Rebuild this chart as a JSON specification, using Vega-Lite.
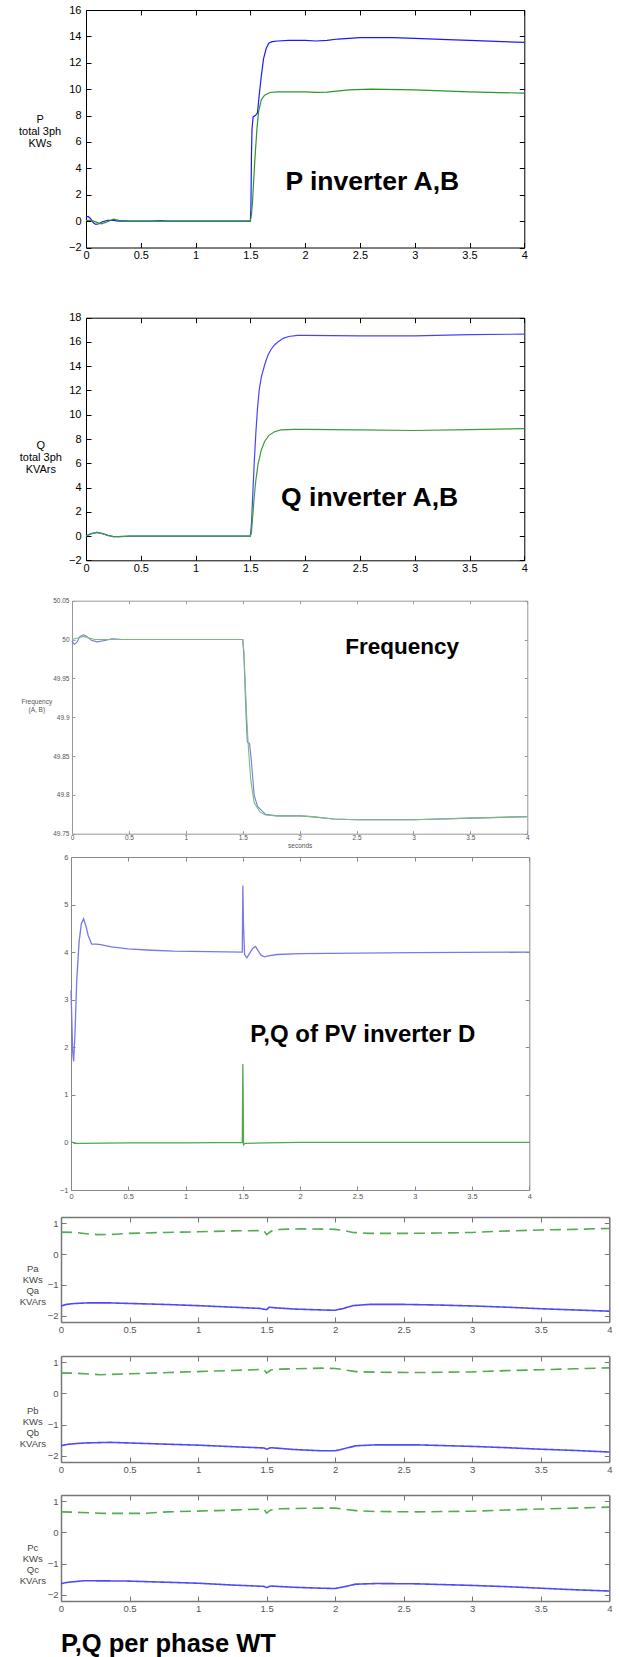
{
"$schema": "https://vega.github.io/schema/vega-lite/v6.json",
"autosize": {"type": "pad"},
"padding": {"left": 18, "top": 4, "right": 5, "bottom": 5},
"background": "white",
"spacing": 0,
"bounds": "flush",
"resolve": {"scale": {"color": "independent", "strokeDash": "independent"}},
"config": {
  "view": {"stroke": null},
  "font": "Liberation Sans",
  "axis": {"grid": false, "tickSize": -5, "labelFont": "Liberation Sans", "titleFont": "Liberation Sans", "labelFontSize": 11, "labelColor": "#000", "domainColor": "#000", "tickColor": "#000", "titleColor": "#000", "titleFontWeight": "normal", "labelFlush": false, "labelOverlap": false, "format": "~g"}
},
"datasets": {
  "p1": [
    {"t":0,"v":0.3,"s":"A"},{"t":0.02,"v":0.35,"s":"A"},{"t":0.04,"v":0.2,"s":"A"},{"t":0.07,"v":-0.15,"s":"A"},{"t":0.09,"v":-0.25,"s":"A"},{"t":0.12,"v":-0.2,"s":"A"},{"t":0.15,"v":-0.05,"s":"A"},{"t":0.2,"v":0.05,"s":"A"},{"t":0.25,"v":0.05,"s":"A"},{"t":0.3,"v":0,"s":"A"},{"t":0.6,"v":0,"s":"A"},{"t":0.68,"v":0.03,"s":"A"},{"t":0.75,"v":0,"s":"A"},{"t":1.2,"v":0,"s":"A"},{"t":1.5,"v":0,"s":"A"},{"t":1.505,"v":1,"s":"A"},{"t":1.51,"v":5,"s":"A"},{"t":1.515,"v":7,"s":"A"},{"t":1.525,"v":7.9,"s":"A"},{"t":1.545,"v":8,"s":"A"},{"t":1.565,"v":8.2,"s":"A"},{"t":1.58,"v":9.5,"s":"A"},{"t":1.6,"v":11,"s":"A"},{"t":1.62,"v":12.3,"s":"A"},{"t":1.645,"v":13.1,"s":"A"},{"t":1.67,"v":13.5,"s":"A"},{"t":1.7,"v":13.6,"s":"A"},{"t":1.75,"v":13.65,"s":"A"},{"t":1.85,"v":13.7,"s":"A"},{"t":2.0,"v":13.7,"s":"A"},{"t":2.1,"v":13.65,"s":"A"},{"t":2.2,"v":13.7,"s":"A"},{"t":2.3,"v":13.8,"s":"A"},{"t":2.5,"v":13.9,"s":"A"},{"t":2.8,"v":13.9,"s":"A"},{"t":3.0,"v":13.85,"s":"A"},{"t":3.3,"v":13.75,"s":"A"},{"t":3.5,"v":13.7,"s":"A"},{"t":3.8,"v":13.6,"s":"A"},{"t":4.0,"v":13.55,"s":"A"},
    {"t":0,"v":0.05,"s":"B"},{"t":0.05,"v":0.05,"s":"B"},{"t":0.1,"v":-0.1,"s":"B"},{"t":0.14,"v":-0.2,"s":"B"},{"t":0.18,"v":-0.1,"s":"B"},{"t":0.25,"v":0.15,"s":"B"},{"t":0.3,"v":0.05,"s":"B"},{"t":0.4,"v":0,"s":"B"},{"t":1.5,"v":0,"s":"B"},{"t":1.51,"v":0.5,"s":"B"},{"t":1.52,"v":1.5,"s":"B"},{"t":1.54,"v":4.5,"s":"B"},{"t":1.56,"v":7,"s":"B"},{"t":1.575,"v":8.3,"s":"B"},{"t":1.6,"v":9.2,"s":"B"},{"t":1.63,"v":9.55,"s":"B"},{"t":1.68,"v":9.75,"s":"B"},{"t":1.75,"v":9.8,"s":"B"},{"t":2.0,"v":9.8,"s":"B"},{"t":2.1,"v":9.75,"s":"B"},{"t":2.2,"v":9.78,"s":"B"},{"t":2.4,"v":9.95,"s":"B"},{"t":2.6,"v":10,"s":"B"},{"t":3.0,"v":9.95,"s":"B"},{"t":3.5,"v":9.8,"s":"B"},{"t":4.0,"v":9.7,"s":"B"}
  ],
  "p2": [
    {"t":0,"v":0,"s":"A"},{"t":0.05,"v":0.2,"s":"A"},{"t":0.1,"v":0.3,"s":"A"},{"t":0.15,"v":0.2,"s":"A"},{"t":0.2,"v":0.05,"s":"A"},{"t":0.25,"v":-0.05,"s":"A"},{"t":0.3,"v":-0.05,"s":"A"},{"t":0.4,"v":0,"s":"A"},{"t":1.5,"v":0,"s":"A"},{"t":1.51,"v":1,"s":"A"},{"t":1.52,"v":3,"s":"A"},{"t":1.535,"v":6,"s":"A"},{"t":1.55,"v":8.5,"s":"A"},{"t":1.565,"v":10.5,"s":"A"},{"t":1.58,"v":12,"s":"A"},{"t":1.6,"v":13.1,"s":"A"},{"t":1.63,"v":14.1,"s":"A"},{"t":1.66,"v":14.9,"s":"A"},{"t":1.69,"v":15.4,"s":"A"},{"t":1.72,"v":15.75,"s":"A"},{"t":1.75,"v":16,"s":"A"},{"t":1.8,"v":16.3,"s":"A"},{"t":1.85,"v":16.45,"s":"A"},{"t":1.93,"v":16.55,"s":"A"},{"t":2.0,"v":16.55,"s":"A"},{"t":2.5,"v":16.5,"s":"A"},{"t":3.0,"v":16.5,"s":"A"},{"t":3.5,"v":16.6,"s":"A"},{"t":4.0,"v":16.65,"s":"A"},
    {"t":0,"v":0,"s":"B"},{"t":0.05,"v":0.2,"s":"B"},{"t":0.1,"v":0.3,"s":"B"},{"t":0.15,"v":0.2,"s":"B"},{"t":0.2,"v":0.05,"s":"B"},{"t":0.25,"v":-0.05,"s":"B"},{"t":0.3,"v":-0.05,"s":"B"},{"t":0.4,"v":0,"s":"B"},{"t":1.5,"v":0,"s":"B"},{"t":1.51,"v":0.3,"s":"B"},{"t":1.52,"v":1.5,"s":"B"},{"t":1.535,"v":3.2,"s":"B"},{"t":1.55,"v":4.6,"s":"B"},{"t":1.57,"v":5.9,"s":"B"},{"t":1.6,"v":7.1,"s":"B"},{"t":1.63,"v":7.8,"s":"B"},{"t":1.67,"v":8.3,"s":"B"},{"t":1.72,"v":8.6,"s":"B"},{"t":1.78,"v":8.75,"s":"B"},{"t":1.9,"v":8.8,"s":"B"},{"t":2.0,"v":8.8,"s":"B"},{"t":2.5,"v":8.75,"s":"B"},{"t":3.0,"v":8.7,"s":"B"},{"t":3.5,"v":8.78,"s":"B"},{"t":4.0,"v":8.85,"s":"B"}
  ],
  "p3": [
    {"t":0,"v":49.998,"s":"A"},{"t":0.02,"v":49.994,"s":"A"},{"t":0.04,"v":49.996,"s":"A"},{"t":0.07,"v":50.004,"s":"A"},{"t":0.1,"v":50.006,"s":"A"},{"t":0.13,"v":50.004,"s":"A"},{"t":0.17,"v":49.999,"s":"A"},{"t":0.22,"v":49.997,"s":"A"},{"t":0.3,"v":49.999,"s":"A"},{"t":0.35,"v":50.001,"s":"A"},{"t":0.45,"v":50,"s":"A"},{"t":1.5,"v":50,"s":"A"},{"t":1.51,"v":49.98,"s":"A"},{"t":1.53,"v":49.9,"s":"A"},{"t":1.54,"v":49.868,"s":"A"},{"t":1.56,"v":49.866,"s":"A"},{"t":1.575,"v":49.845,"s":"A"},{"t":1.6,"v":49.8,"s":"A"},{"t":1.63,"v":49.785,"s":"A"},{"t":1.7,"v":49.775,"s":"A"},{"t":1.8,"v":49.773,"s":"A"},{"t":2.0,"v":49.773,"s":"A"},{"t":2.1,"v":49.772,"s":"A"},{"t":2.3,"v":49.769,"s":"A"},{"t":2.5,"v":49.768,"s":"A"},{"t":3.0,"v":49.768,"s":"A"},{"t":3.5,"v":49.77,"s":"A"},{"t":4.0,"v":49.772,"s":"A"},
    {"t":0,"v":50,"s":"B"},{"t":0.05,"v":50.002,"s":"B"},{"t":0.1,"v":50.004,"s":"B"},{"t":0.2,"v":50,"s":"B"},{"t":1.5,"v":50,"s":"B"},{"t":1.51,"v":49.985,"s":"B"},{"t":1.52,"v":49.95,"s":"B"},{"t":1.535,"v":49.9,"s":"B"},{"t":1.55,"v":49.86,"s":"B"},{"t":1.57,"v":49.82,"s":"B"},{"t":1.6,"v":49.79,"s":"B"},{"t":1.65,"v":49.778,"s":"B"},{"t":1.7,"v":49.774,"s":"B"},{"t":1.8,"v":49.773,"s":"B"},{"t":2.0,"v":49.773,"s":"B"},{"t":2.1,"v":49.772,"s":"B"},{"t":2.3,"v":49.769,"s":"B"},{"t":2.5,"v":49.768,"s":"B"},{"t":3.0,"v":49.768,"s":"B"},{"t":3.5,"v":49.77,"s":"B"},{"t":4.0,"v":49.772,"s":"B"}
  ],
  "p4": [
    {"t":0,"v":3.2,"s":"A"},{"t":0.008,"v":2.5,"s":"A"},{"t":0.015,"v":1.9,"s":"A"},{"t":0.023,"v":1.7,"s":"A"},{"t":0.035,"v":2.3,"s":"A"},{"t":0.05,"v":3.4,"s":"A"},{"t":0.07,"v":4.2,"s":"A"},{"t":0.09,"v":4.6,"s":"A"},{"t":0.11,"v":4.7,"s":"A"},{"t":0.13,"v":4.55,"s":"A"},{"t":0.15,"v":4.35,"s":"A"},{"t":0.18,"v":4.17,"s":"A"},{"t":0.22,"v":4.17,"s":"A"},{"t":0.26,"v":4.16,"s":"A"},{"t":0.35,"v":4.11,"s":"A"},{"t":0.5,"v":4.07,"s":"A"},{"t":0.7,"v":4.04,"s":"A"},{"t":0.9,"v":4.02,"s":"A"},{"t":1.2,"v":4.01,"s":"A"},{"t":1.495,"v":4,"s":"A"},{"t":1.5,"v":5.4,"s":"A"},{"t":1.505,"v":4.6,"s":"A"},{"t":1.515,"v":3.95,"s":"A"},{"t":1.535,"v":3.88,"s":"A"},{"t":1.56,"v":3.98,"s":"A"},{"t":1.585,"v":4.08,"s":"A"},{"t":1.61,"v":4.12,"s":"A"},{"t":1.635,"v":4.02,"s":"A"},{"t":1.66,"v":3.93,"s":"A"},{"t":1.69,"v":3.9,"s":"A"},{"t":1.72,"v":3.92,"s":"A"},{"t":1.8,"v":3.95,"s":"A"},{"t":2.0,"v":3.97,"s":"A"},{"t":2.5,"v":3.98,"s":"A"},{"t":3.0,"v":3.99,"s":"A"},{"t":4.0,"v":4.0,"s":"A"},
    {"t":0,"v":0.02,"s":"B"},{"t":0.03,"v":-0.02,"s":"B"},{"t":0.1,"v":-0.02,"s":"B"},{"t":0.5,"v":-0.01,"s":"B"},{"t":1.0,"v":-0.01,"s":"B"},{"t":1.495,"v":0,"s":"B"},{"t":1.5,"v":1.65,"s":"B"},{"t":1.503,"v":0.8,"s":"B"},{"t":1.506,"v":-0.05,"s":"B"},{"t":1.52,"v":-0.02,"s":"B"},{"t":1.7,"v":-0.01,"s":"B"},{"t":2.0,"v":0,"s":"B"},{"t":4.0,"v":0,"s":"B"}
  ],
  "p5": [
    {"t":0,"v":-1.68,"s":"P"},{"t":0.04,"v":-1.63,"s":"P"},{"t":0.1,"v":-1.6,"s":"P"},{"t":0.2,"v":-1.58,"s":"P"},{"t":0.35,"v":-1.58,"s":"P"},{"t":0.5,"v":-1.6,"s":"P"},{"t":0.75,"v":-1.63,"s":"P"},{"t":1.0,"v":-1.67,"s":"P"},{"t":1.25,"v":-1.72,"s":"P"},{"t":1.45,"v":-1.76,"s":"P"},{"t":1.5,"v":-1.8,"s":"P"},{"t":1.52,"v":-1.72,"s":"P"},{"t":1.56,"v":-1.74,"s":"P"},{"t":1.7,"v":-1.78,"s":"P"},{"t":1.9,"v":-1.81,"s":"P"},{"t":2.0,"v":-1.82,"s":"P"},{"t":2.06,"v":-1.76,"s":"P"},{"t":2.13,"v":-1.67,"s":"P"},{"t":2.25,"v":-1.63,"s":"P"},{"t":2.5,"v":-1.63,"s":"P"},{"t":2.75,"v":-1.65,"s":"P"},{"t":3.0,"v":-1.68,"s":"P"},{"t":3.25,"v":-1.72,"s":"P"},{"t":3.5,"v":-1.77,"s":"P"},{"t":3.75,"v":-1.81,"s":"P"},{"t":4.0,"v":-1.85,"s":"P"},
    {"t":0,"v":0.71,"s":"Q"},{"t":0.1,"v":0.7,"s":"Q"},{"t":0.2,"v":0.65,"s":"Q"},{"t":0.27,"v":0.63,"s":"Q"},{"t":0.4,"v":0.64,"s":"Q"},{"t":0.5,"v":0.67,"s":"Q"},{"t":0.75,"v":0.7,"s":"Q"},{"t":1.0,"v":0.72,"s":"Q"},{"t":1.25,"v":0.75,"s":"Q"},{"t":1.48,"v":0.76,"s":"Q"},{"t":1.5,"v":0.63,"s":"Q"},{"t":1.53,"v":0.73,"s":"Q"},{"t":1.56,"v":0.79,"s":"Q"},{"t":1.75,"v":0.82,"s":"Q"},{"t":2.0,"v":0.8,"s":"Q"},{"t":2.05,"v":0.77,"s":"Q"},{"t":2.13,"v":0.7,"s":"Q"},{"t":2.25,"v":0.67,"s":"Q"},{"t":2.5,"v":0.67,"s":"Q"},{"t":2.75,"v":0.68,"s":"Q"},{"t":3.0,"v":0.7,"s":"Q"},{"t":3.2,"v":0.74,"s":"Q"},{"t":3.5,"v":0.78,"s":"Q"},{"t":3.75,"v":0.8,"s":"Q"},{"t":4.0,"v":0.83,"s":"Q"}
  ],
  "p6": [
    {"t":0,"v":-1.68,"s":"P"},{"t":0.05,"v":-1.63,"s":"P"},{"t":0.17,"v":-1.59,"s":"P"},{"t":0.36,"v":-1.57,"s":"P"},{"t":0.5,"v":-1.59,"s":"P"},{"t":0.78,"v":-1.63,"s":"P"},{"t":1.0,"v":-1.66,"s":"P"},{"t":1.26,"v":-1.71,"s":"P"},{"t":1.48,"v":-1.75,"s":"P"},{"t":1.5,"v":-1.79,"s":"P"},{"t":1.53,"v":-1.74,"s":"P"},{"t":1.7,"v":-1.8,"s":"P"},{"t":1.9,"v":-1.84,"s":"P"},{"t":2.0,"v":-1.84,"s":"P"},{"t":2.07,"v":-1.77,"s":"P"},{"t":2.15,"v":-1.68,"s":"P"},{"t":2.3,"v":-1.65,"s":"P"},{"t":2.6,"v":-1.65,"s":"P"},{"t":3.0,"v":-1.7,"s":"P"},{"t":3.25,"v":-1.74,"s":"P"},{"t":3.5,"v":-1.79,"s":"P"},{"t":3.75,"v":-1.83,"s":"P"},{"t":4.0,"v":-1.88,"s":"P"},
    {"t":0,"v":0.66,"s":"Q"},{"t":0.1,"v":0.65,"s":"Q"},{"t":0.29,"v":0.6,"s":"Q"},{"t":0.5,"v":0.63,"s":"Q"},{"t":0.78,"v":0.67,"s":"Q"},{"t":1.14,"v":0.72,"s":"Q"},{"t":1.48,"v":0.77,"s":"Q"},{"t":1.5,"v":0.65,"s":"Q"},{"t":1.53,"v":0.75,"s":"Q"},{"t":1.6,"v":0.78,"s":"Q"},{"t":1.9,"v":0.81,"s":"Q"},{"t":2.0,"v":0.8,"s":"Q"},{"t":2.06,"v":0.76,"s":"Q"},{"t":2.15,"v":0.7,"s":"Q"},{"t":2.3,"v":0.68,"s":"Q"},{"t":2.6,"v":0.67,"s":"Q"},{"t":3.0,"v":0.69,"s":"Q"},{"t":3.25,"v":0.73,"s":"Q"},{"t":3.5,"v":0.76,"s":"Q"},{"t":3.75,"v":0.79,"s":"Q"},{"t":4.0,"v":0.82,"s":"Q"}
  ],
  "p7": [
    {"t":0,"v":-1.64,"s":"P"},{"t":0.05,"v":-1.6,"s":"P"},{"t":0.17,"v":-1.55,"s":"P"},{"t":0.48,"v":-1.56,"s":"P"},{"t":0.78,"v":-1.6,"s":"P"},{"t":1.0,"v":-1.63,"s":"P"},{"t":1.26,"v":-1.69,"s":"P"},{"t":1.48,"v":-1.73,"s":"P"},{"t":1.5,"v":-1.77,"s":"P"},{"t":1.53,"v":-1.72,"s":"P"},{"t":1.7,"v":-1.76,"s":"P"},{"t":1.9,"v":-1.79,"s":"P"},{"t":2.0,"v":-1.8,"s":"P"},{"t":2.07,"v":-1.74,"s":"P"},{"t":2.15,"v":-1.66,"s":"P"},{"t":2.3,"v":-1.64,"s":"P"},{"t":2.6,"v":-1.65,"s":"P"},{"t":3.0,"v":-1.7,"s":"P"},{"t":3.25,"v":-1.74,"s":"P"},{"t":3.5,"v":-1.79,"s":"P"},{"t":3.75,"v":-1.84,"s":"P"},{"t":4.0,"v":-1.88,"s":"P"},
    {"t":0,"v":0.66,"s":"Q"},{"t":0.15,"v":0.64,"s":"Q"},{"t":0.3,"v":0.61,"s":"Q"},{"t":0.6,"v":0.61,"s":"Q"},{"t":0.78,"v":0.66,"s":"Q"},{"t":1.14,"v":0.7,"s":"Q"},{"t":1.48,"v":0.75,"s":"Q"},{"t":1.5,"v":0.62,"s":"Q"},{"t":1.53,"v":0.72,"s":"Q"},{"t":1.6,"v":0.76,"s":"Q"},{"t":1.9,"v":0.78,"s":"Q"},{"t":2.0,"v":0.78,"s":"Q"},{"t":2.06,"v":0.75,"s":"Q"},{"t":2.15,"v":0.7,"s":"Q"},{"t":2.3,"v":0.67,"s":"Q"},{"t":2.6,"v":0.66,"s":"Q"},{"t":3.0,"v":0.68,"s":"Q"},{"t":3.25,"v":0.72,"s":"Q"},{"t":3.5,"v":0.75,"s":"Q"},{"t":3.75,"v":0.78,"s":"Q"},{"t":4.0,"v":0.81,"s":"Q"}
  ]
},
"vconcat": [
  {
    "width": 463.3, "height": 237.5,
    "layer": [
      {"data": {"name": "p1"}, "mark": {"type": "line", "strokeWidth": 1.2},
       "encoding": {
         "x": {"field": "t", "type": "quantitative", "scale": {"domain": [0, 4], "range": [25, 463.3], "nice": false, "zero": false}, "axis": {"orient": "bottom", "values": [0,0.5,1,1.5,2,2.5,3,3.5,4], "title": null, "labelPadding": 7}},
         "y": {"field": "v", "type": "quantitative", "scale": {"domain": [-2, 16], "range": [237.5, 0], "nice": false, "zero": false}, "axis": {"orient": "left", "offset": -25, "values": [-2,0,2,4,6,8,10,12,14,16], "labelPadding": 10, "title": ["P", "total 3ph", "KWs"], "titleAngle": 0, "titleAlign": "center", "titleBaseline": "middle", "titleX": -46.4, "titleY": 109.5, "titleFontSize": 11, "titleLineHeight": 12}},
         "color": {"field": "s", "type": "nominal", "scale": {"domain": ["A", "B"], "range": ["#1a1aff", "#2a962a"]}, "legend": null}
       }},
      {"data": {"name": "p1"}, "mark": {"type": "point", "opacity": 0},
       "encoding": {
         "x": {"field": "t", "type": "quantitative", "axis": {"orient": "top", "values": [0,0.5,1,1.5,2,2.5,3,3.5,4], "labels": false, "title": null}},
         "y": {"field": "v", "type": "quantitative", "axis": {"orient": "right", "values": [-2,0,2,4,6,8,10,12,14,16], "labels": false, "title": null}}
       }},
      {"data": {"values": [{"t": 1.82, "v": 2.93, "label": "P inverter A,B"}]}, "mark": {"type": "text", "align": "left", "baseline": "middle", "fontSize": 26.5, "fontWeight": "bold", "font": "Liberation Sans"},
       "encoding": {"x": {"field": "t", "type": "quantitative", "axis": null}, "y": {"field": "v", "type": "quantitative", "axis": null}, "text": {"field": "label"}}}
    ],
    "resolve": {"axis": {"x": "independent", "y": "independent"}}
  },
  {
    "width": 463.3, "height": 312.3,
    "layer": [
      {"data": {"name": "p2"}, "mark": {"type": "line", "strokeWidth": 1.2},
       "encoding": {
         "x": {"field": "t", "type": "quantitative", "scale": {"domain": [0, 4], "range": [25, 463.3], "nice": false, "zero": false}, "axis": {"orient": "bottom", "values": [0,0.5,1,1.5,2,2.5,3,3.5,4], "title": null, "labelPadding": 7}},
         "y": {"field": "v", "type": "quantitative", "scale": {"domain": [-2, 18], "range": [312.3, 69.7], "nice": false, "zero": false}, "axis": {"orient": "left", "offset": -25, "values": [-2,0,2,4,6,8,10,12,14,16,18], "labelPadding": 10, "title": ["Q", "total 3ph", "KVArs"], "titleAngle": 0, "titleAlign": "center", "titleBaseline": "middle", "titleX": -45.7, "titleY": 197.8, "titleFontSize": 11, "titleLineHeight": 12}},
         "color": {"field": "s", "type": "nominal", "scale": {"domain": ["A", "B"], "range": ["#4444ff", "#3c9c3c"]}, "legend": null}
       }},
      {"data": {"name": "p2"}, "mark": {"type": "point", "opacity": 0},
       "encoding": {
         "x": {"field": "t", "type": "quantitative", "axis": {"orient": "top", "offset": -69.7, "values": [0,0.5,1,1.5,2,2.5,3,3.5,4], "labels": false, "title": null}},
         "y": {"field": "v", "type": "quantitative", "axis": {"orient": "right", "values": [-2,0,2,4,6,8,10,12,14,16,18], "labels": false, "title": null}}
       }},
      {"data": {"values": [{"t": 1.78, "v": 3.1, "label": "Q inverter A,B"}]}, "mark": {"type": "text", "align": "left", "baseline": "middle", "fontSize": 26.5, "fontWeight": "bold", "font": "Liberation Sans"},
       "encoding": {"x": {"field": "t", "type": "quantitative", "axis": null}, "y": {"field": "v", "type": "quantitative", "axis": null}, "text": {"field": "label"}}}
    ],
    "resolve": {"axis": {"x": "independent", "y": "independent"}}
  },
  {
    "width": 466.3, "height": 272.7,
    "layer": [
      {"data": {"name": "p3"}, "mark": {"type": "line", "strokeWidth": 1.1},
       "encoding": {
         "x": {"field": "t", "type": "quantitative", "scale": {"domain": [0, 4], "range": [11, 466.3], "nice": false, "zero": false}, "axis": {"orient": "bottom", "values": [0,0.5,1,1.5,2,2.5,3,3.5,4], "title": "seconds", "titleFontSize": 6.5, "titleColor": "#555", "titlePadding": 1, "labelPadding": 4, "labelFontSize": 6.5, "labelColor": "#555", "domainColor": "#999", "tickColor": "#999", "tickSize": -3}},
         "y": {"field": "v", "type": "quantitative", "scale": {"domain": [49.75, 50.05], "range": [272.7, 39.7], "nice": false, "zero": false}, "axis": {"orient": "left", "offset": -11, "values": [49.75,49.8,49.85,49.9,49.95,50,50.05], "labelPadding": 6, "labelFontSize": 6.5, "labelColor": "#555", "domainColor": "#999", "tickColor": "#999", "tickSize": -3, "title": ["Frequency", "(A, B)"], "titleAngle": 0, "titleAlign": "center", "titleBaseline": "middle", "titleX": -35.7, "titleY": 140.7, "titleFontSize": 6.5, "titleColor": "#555", "titleLineHeight": 8}},
         "color": {"field": "s", "type": "nominal", "scale": {"domain": ["A", "B"], "range": ["#6f7fd6", "#7dbb7d"]}, "legend": null}
       }},
      {"data": {"name": "p3"}, "mark": {"type": "point", "opacity": 0},
       "encoding": {
         "x": {"field": "t", "type": "quantitative", "axis": {"orient": "top", "offset": -39.7, "values": [0,0.5,1,1.5,2,2.5,3,3.5,4], "labels": false, "title": null, "domainColor": "#999", "tickColor": "#999", "tickSize": -3}},
         "y": {"field": "v", "type": "quantitative", "axis": {"orient": "right", "values": [49.75,49.8,49.85,49.9,49.95,50,50.05], "labels": false, "title": null, "domainColor": "#999", "tickColor": "#999", "tickSize": -3}}
       }},
      {"data": {"values": [{"t": 2.4, "v": 49.991, "label": "Frequency"}]}, "mark": {"type": "text", "align": "left", "baseline": "middle", "fontSize": 22.5, "fontWeight": "bold", "font": "Liberation Sans"},
       "encoding": {"x": {"field": "t", "type": "quantitative", "axis": null}, "y": {"field": "v", "type": "quantitative", "axis": null}, "text": {"field": "label"}}}
    ],
    "resolve": {"axis": {"x": "independent", "y": "independent"}}
  },
  {
    "width": 468.3, "height": 356,
    "layer": [
      {"data": {"name": "p4"}, "mark": {"type": "line", "strokeWidth": 1.3},
       "encoding": {
         "x": {"field": "t", "type": "quantitative", "scale": {"domain": [0, 4], "range": [10, 468.3], "nice": false, "zero": false}, "axis": {"orient": "bottom", "values": [0,0.5,1,1.5,2,2.5,3,3.5,4], "title": null, "labelPadding": 6, "labelFontSize": 7.5, "labelColor": "#555", "domainColor": "#888", "tickColor": "#888", "tickSize": -4}},
         "y": {"field": "v", "type": "quantitative", "scale": {"domain": [-1, 6], "range": [356, 23], "nice": false, "zero": false}, "axis": {"orient": "left", "offset": -10, "values": [-1,0,1,2,3,4,5,6], "labelPadding": 7, "labelFontSize": 7.5, "labelColor": "#555", "domainColor": "#888", "tickColor": "#888", "tickSize": -4, "title": null}},
         "color": {"field": "s", "type": "nominal", "scale": {"domain": ["A", "B"], "range": ["#7878e8", "#4fa84f"]}, "legend": null}
       }},
      {"data": {"name": "p4"}, "mark": {"type": "point", "opacity": 0},
       "encoding": {
         "x": {"field": "t", "type": "quantitative", "axis": {"orient": "top", "offset": -23, "values": [0,0.5,1,1.5,2,2.5,3,3.5,4], "labels": false, "title": null, "domainColor": "#888", "tickColor": "#888", "tickSize": -4}},
         "y": {"field": "v", "type": "quantitative", "axis": {"orient": "right", "values": [-1,0,1,2,3,4,5,6], "labels": false, "title": null, "domainColor": "#888", "tickColor": "#888", "tickSize": -4}}
       }},
      {"data": {"values": [{"t": 1.565, "v": 2.264, "label": "P,Q of PV inverter D"}]}, "mark": {"type": "text", "align": "left", "baseline": "middle", "fontSize": 24, "fontWeight": "bold", "font": "Liberation Sans"},
       "encoding": {"x": {"field": "t", "type": "quantitative", "axis": null}, "y": {"field": "v", "type": "quantitative", "axis": null}, "text": {"field": "label"}}}
    ],
    "resolve": {"axis": {"x": "independent", "y": "independent"}}
  },
  {
    "width": 548.3, "height": 132,
    "layer": [
      {"data": {"name": "p5"}, "mark": {"type": "line", "strokeWidth": 1.6},
       "encoding": {
         "x": {"field": "t", "type": "quantitative", "scale": {"domain": [0, 4], "range": [0, 548.3], "nice": false, "zero": false}, "axis": {"orient": "bottom", "values": [0,0.5,1,1.5,2,2.5,3,3.5,4], "title": null, "labelPadding": 7, "labelFontSize": 9.5, "labelColor": "#555", "domainColor": "#777", "tickColor": "#777", "domainWidth": 1.5}},
         "y": {"field": "v", "type": "quantitative", "scale": {"domain": [-2.2, 1.2], "range": [132, 27], "nice": false, "zero": false}, "axis": {"orient": "left", "values": [-2,-1,0,1], "labelPadding": 8, "labelFontSize": 9.5, "labelColor": "#555", "domainColor": "#777", "tickColor": "#777", "domainWidth": 1.5, "title": ["Pa", "KWs", "Qa", "KVArs"], "titleAngle": 0, "titleAlign": "center", "titleBaseline": "middle", "titleX": -28.7, "titleY": 78.5, "titleFontSize": 9.5, "titleColor": "#444", "titleLineHeight": 11}},
         "color": {"field": "s", "type": "nominal", "scale": {"domain": ["P", "Q"], "range": ["#4a4aff", "#4fae4f"]}, "legend": null},
         "strokeDash": {"field": "s", "type": "nominal", "scale": {"domain": ["P", "Q"], "range": [[1, 0], [11, 6]]}, "legend": null}
       }},
      {"data": {"name": "p5"}, "mark": {"type": "point", "opacity": 0},
       "encoding": {
         "x": {"field": "t", "type": "quantitative", "axis": {"orient": "top", "offset": -27, "values": [0,0.5,1,1.5,2,2.5,3,3.5,4], "labels": false, "title": null, "domainColor": "#777", "tickColor": "#777", "domainWidth": 1.5}},
         "y": {"field": "v", "type": "quantitative", "axis": {"orient": "right", "values": [-2,-1,0,1], "labels": false, "title": null, "domainColor": "#777", "tickColor": "#777", "domainWidth": 1.5}}
       }}
    ],
    "resolve": {"axis": {"x": "independent", "y": "independent"}}
  },
  {
    "width": 548.3, "height": 140,
    "layer": [
      {"data": {"name": "p6"}, "mark": {"type": "line", "strokeWidth": 1.6},
       "encoding": {
         "x": {"field": "t", "type": "quantitative", "scale": {"domain": [0, 4], "range": [0, 548.3], "nice": false, "zero": false}, "axis": {"orient": "bottom", "values": [0,0.5,1,1.5,2,2.5,3,3.5,4], "title": null, "labelPadding": 7, "labelFontSize": 9.5, "labelColor": "#555", "domainColor": "#777", "tickColor": "#777", "domainWidth": 1.5}},
         "y": {"field": "v", "type": "quantitative", "scale": {"domain": [-2.2, 1.2], "range": [140, 34], "nice": false, "zero": false}, "axis": {"orient": "left", "values": [-2,-1,0,1], "labelPadding": 8, "labelFontSize": 9.5, "labelColor": "#555", "domainColor": "#777", "tickColor": "#777", "domainWidth": 1.5, "title": ["Pb", "KWs", "Qb", "KVArs"], "titleAngle": 0, "titleAlign": "center", "titleBaseline": "middle", "titleX": -28.7, "titleY": 88, "titleFontSize": 9.5, "titleColor": "#444", "titleLineHeight": 11}},
         "color": {"field": "s", "type": "nominal", "scale": {"domain": ["P", "Q"], "range": ["#4a4aff", "#4fae4f"]}, "legend": null},
         "strokeDash": {"field": "s", "type": "nominal", "scale": {"domain": ["P", "Q"], "range": [[1, 0], [11, 6]]}, "legend": null}
       }},
      {"data": {"name": "p6"}, "mark": {"type": "point", "opacity": 0},
       "encoding": {
         "x": {"field": "t", "type": "quantitative", "axis": {"orient": "top", "offset": -34, "values": [0,0.5,1,1.5,2,2.5,3,3.5,4], "labels": false, "title": null, "domainColor": "#777", "tickColor": "#777", "domainWidth": 1.5}},
         "y": {"field": "v", "type": "quantitative", "axis": {"orient": "right", "values": [-2,-1,0,1], "labels": false, "title": null, "domainColor": "#777", "tickColor": "#777", "domainWidth": 1.5}}
       }}
    ],
    "resolve": {"axis": {"x": "independent", "y": "independent"}}
  },
  {
    "width": 548.3, "height": 139,
    "layer": [
      {"data": {"name": "p7"}, "mark": {"type": "line", "strokeWidth": 1.6},
       "encoding": {
         "x": {"field": "t", "type": "quantitative", "scale": {"domain": [0, 4], "range": [0, 548.3], "nice": false, "zero": false}, "axis": {"orient": "bottom", "values": [0,0.5,1,1.5,2,2.5,3,3.5,4], "title": null, "labelPadding": 7, "labelFontSize": 9.5, "labelColor": "#555", "domainColor": "#777", "tickColor": "#777", "domainWidth": 1.5}},
         "y": {"field": "v", "type": "quantitative", "scale": {"domain": [-2.2, 1.2], "range": [139, 33], "nice": false, "zero": false}, "axis": {"orient": "left", "values": [-2,-1,0,1], "labelPadding": 8, "labelFontSize": 9.5, "labelColor": "#555", "domainColor": "#777", "tickColor": "#777", "domainWidth": 1.5, "title": ["Pc", "KWs", "Qc", "KVArs"], "titleAngle": 0, "titleAlign": "center", "titleBaseline": "middle", "titleX": -28.7, "titleY": 85, "titleFontSize": 9.5, "titleColor": "#444", "titleLineHeight": 11}},
         "color": {"field": "s", "type": "nominal", "scale": {"domain": ["P", "Q"], "range": ["#4a4aff", "#4fae4f"]}, "legend": null},
         "strokeDash": {"field": "s", "type": "nominal", "scale": {"domain": ["P", "Q"], "range": [[1, 0], [11, 6]]}, "legend": null}
       }},
      {"data": {"name": "p7"}, "mark": {"type": "point", "opacity": 0},
       "encoding": {
         "x": {"field": "t", "type": "quantitative", "axis": {"orient": "top", "offset": -33, "values": [0,0.5,1,1.5,2,2.5,3,3.5,4], "labels": false, "title": null, "domainColor": "#777", "tickColor": "#777", "domainWidth": 1.5}},
         "y": {"field": "v", "type": "quantitative", "axis": {"orient": "right", "values": [-2,-1,0,1], "labels": false, "title": null, "domainColor": "#777", "tickColor": "#777", "domainWidth": 1.5}}
       }},
      {"data": {"values": [{"t": 0, "v": -3.58, "label": "P,Q per phase WT"}]}, "mark": {"type": "text", "align": "left", "baseline": "middle", "fontSize": 25.5, "fontWeight": "bold", "font": "Liberation Sans"},
       "encoding": {"x": {"field": "t", "type": "quantitative", "axis": null}, "y": {"field": "v", "type": "quantitative", "axis": null}, "text": {"field": "label"}}}
    ],
    "resolve": {"axis": {"x": "independent", "y": "independent"}}
  }
]
}
